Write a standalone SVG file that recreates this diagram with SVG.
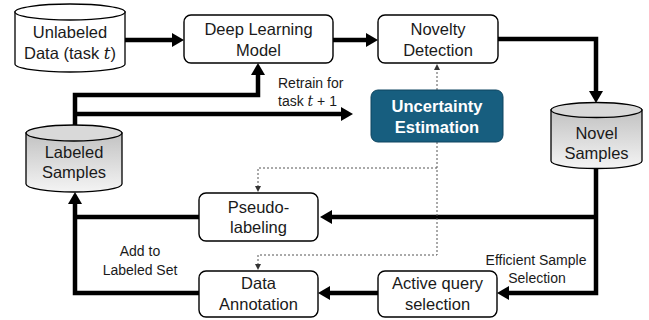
<svg xmlns="http://www.w3.org/2000/svg" width="649" height="320" viewBox="0 0 649 320">
<style>
text{font-family:"Liberation Sans",Arial,sans-serif;fill:#1a1a1a}
.t{font-size:16.5px;text-anchor:middle}
.s{font-size:14px}
.box{fill:#fff;stroke:#000;stroke-width:1.4}
.cyl{stroke:#000;stroke-width:1.3}
.thick{fill:none;stroke:#000;stroke-width:4.5}
.dot{fill:none;stroke:#555;stroke-width:1;stroke-dasharray:2,2}
.m{font-family:"DejaVu Serif","Liberation Serif",serif;font-style:italic}
</style>
<defs>
<linearGradient id="g" x1="0" y1="0" x2="0" y2="1">
<stop offset="0" stop-color="#c2c2c2"/>
<stop offset="1" stop-color="#f4f4f4"/>
</linearGradient>
<marker id="ah" markerUnits="userSpaceOnUse" markerWidth="14" markerHeight="14" refX="3" refY="7" orient="auto">
<path d="M0,0 L12,7 L0,14 Z" fill="#000"/>
</marker>
<marker id="sa" markerUnits="userSpaceOnUse" markerWidth="6" markerHeight="6" refX="1" refY="3" orient="auto">
<path d="M0,0 L6,3 L0,6 Z" fill="#333"/>
</marker>
</defs>

<g id="connectors">
<path class="thick" d="M125,40 H175" marker-end="url(#ah)"/>
<path class="thick" d="M333,40 H369" marker-end="url(#ah)"/>
<path class="thick" d="M498,39 H596 V94" marker-end="url(#ah)"/>
<path class="thick" d="M596,168 V293 H506" marker-end="url(#ah)"/>
<path class="thick" d="M596,217 H329" marker-end="url(#ah)"/>
<path class="thick" d="M378,293 H327" marker-end="url(#ah)"/>
<path class="thick" d="M199,217 H75"/>
<path class="thick" d="M199,293 H75 V201" marker-end="url(#ah)"/>
<path class="thick" d="M75,125 V95 H258 V72" marker-end="url(#ah)"/>
<path class="thick" d="M75,114 H344" marker-end="url(#ah)"/>
<path class="dot" d="M437,90 V69" marker-end="url(#sa)"/>
<path class="dot" d="M437,142 V255 H258 V265" marker-end="url(#sa)"/>
<path class="dot" d="M437,168 H258 V187" marker-end="url(#sa)"/>
</g>

<g id="unlabeled">
<path class="cyl" fill="#fff" d="M15,12 L15,64 A55,8 0 0 0 125,64 L125,12 Z"/>
<ellipse class="cyl" fill="#fff" cx="70" cy="12" rx="55" ry="8"/>
<text class="t" x="70" y="38">Unlabeled</text>
<text class="t" x="70" y="59">Data (task <tspan class="m">t</tspan>)</text>
</g>

<g id="deep-learning">
<rect class="box" x="184" y="15" width="149" height="48" rx="7"/>
<text class="t" x="258.5" y="35">Deep Learning</text>
<text class="t" x="258.5" y="56">Model</text>
</g>

<g id="novelty">
<rect class="box" x="378" y="15" width="120" height="48" rx="7"/>
<text class="t" x="438" y="35">Novelty</text>
<text class="t" x="438" y="56">Detection</text>
</g>

<g id="novel-samples">
<path class="cyl" fill="url(#g)" d="M551,110 L551,161 A45.5,7.5 0 0 0 642,161 L642,110 Z"/>
<ellipse class="cyl" fill="#d9d9d9" cx="596.5" cy="110" rx="45.5" ry="7.5"/>
<text class="t" x="596.5" y="139">Novel</text>
<text class="t" x="596.5" y="159">Samples</text>
</g>

<g id="labeled-samples">
<path class="cyl" fill="url(#g)" d="M26,133 L26,184 A48,8 0 0 0 122,184 L122,133 Z"/>
<ellipse class="cyl" fill="#d9d9d9" cx="74" cy="133" rx="48" ry="8"/>
<text class="t" x="74" y="158">Labeled</text>
<text class="t" x="74" y="178">Samples</text>
</g>

<g id="uncertainty">
<rect x="371" y="90" width="132" height="52" rx="7" fill="#175e7f" stroke="#0f4560" stroke-width="1"/>
<text class="t" x="437" y="112" style="fill:#fff;font-weight:bold">Uncertainty</text>
<text class="t" x="437" y="133" style="fill:#fff;font-weight:bold">Estimation</text>
</g>

<g id="pseudo-labeling">
<rect class="box" x="199" y="193" width="119" height="48" rx="7"/>
<text class="t" x="258.5" y="213">Pseudo-</text>
<text class="t" x="258.5" y="233">labeling</text>
</g>

<g id="data-annotation">
<rect class="box" x="199" y="271" width="119" height="46" rx="7"/>
<text class="t" x="258.5" y="289">Data</text>
<text class="t" x="258.5" y="310">Annotation</text>
</g>

<g id="active-query">
<rect class="box" x="378" y="271" width="119" height="46" rx="7"/>
<text class="t" x="437.5" y="289">Active query</text>
<text class="t" x="437.5" y="310">selection</text>
</g>

<g id="labels">
<text class="s" x="278" y="88">Retrain for</text>
<text class="s" x="278" y="106">task <tspan class="m">t</tspan> + 1</text>
<text class="s" x="140" y="256" text-anchor="middle">Add to</text>
<text class="s" x="140" y="275" text-anchor="middle">Labeled Set</text>
<text class="s" x="536" y="265" text-anchor="middle">Efficient Sample</text>
<text class="s" x="537" y="283" text-anchor="middle">Selection</text>
</g>
</svg>
